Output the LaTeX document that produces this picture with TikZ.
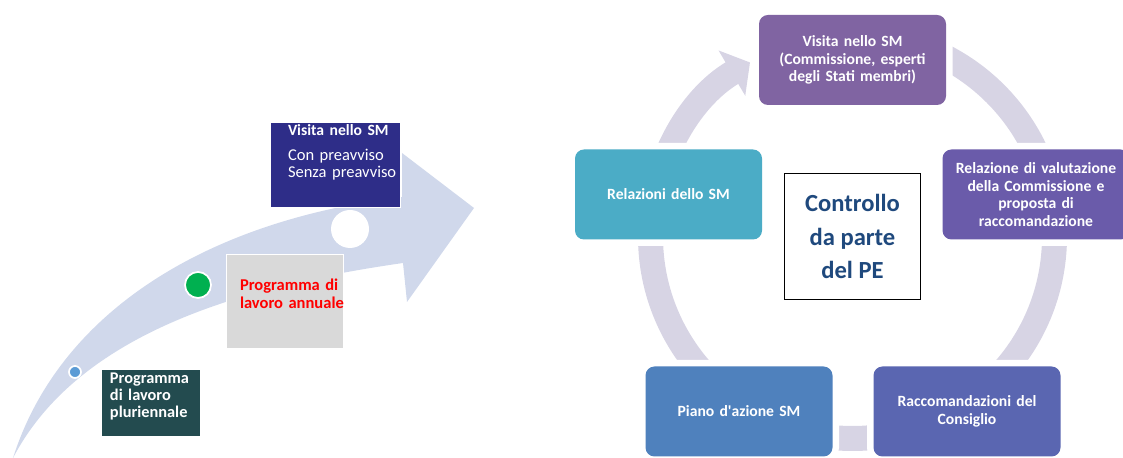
\documentclass[tikz,border=0pt]{standalone}
\usepackage{fontspec}
\setmainfont{Carlito}
\usetikzlibrary{positioning,arrows.meta}
\definecolor{evnavy}{HTML}{2E2D88}
\definecolor{evgray}{HTML}{D9D9D9}
\definecolor{evteal}{HTML}{234B4F}
\definecolor{evgreen}{HTML}{00B050}
\definecolor{evdot}{HTML}{5B9BD5}
\definecolor{evarrow}{HTML}{D0D8EB}
\definecolor{evring}{HTML}{D7D4E4}
\definecolor{evpurple}{HTML}{8064A2}
\definecolor{evviolet}{HTML}{6A5BAA}
\definecolor{evturq}{HTML}{4BACC6}
\definecolor{evblue}{HTML}{4F81BD}
\definecolor{evindigo}{HTML}{5A66B1}
\definecolor{evdark}{HTML}{1F497D}

\begin{document}
\begin{tikzpicture}[font=\fontsize{8.9}{9.9}\selectfont,
       tag/.style={draw=white,line width=0.4pt,inner sep=0pt,align=left,text=white,font=\fontsize{9.4}{10}\selectfont},
       dot/.style={circle,draw=white,line width=1pt,inner sep=0pt},
       cyc/.style={rounded corners=0.18cm,minimum width=3.74cm,minimum height=1.8cm,text width=3.45cm,align=center,text=white,font=\fontsize{8.9}{9.9}\selectfont\bfseries,preaction={draw=white,line width=0.26cm}},
       ring/.style={draw=evring,line width=0.5cm,-{Triangle[length=0.42cm,width=1.03cm]}}]
      \useasboundingbox (0,0) rectangle (22.46,9.16);
      \fill[evarrow] (0.26,0) .. controls (1.2,2.96) and (4.2,4.76) .. (8.04,5.22) -- (8.04,6.1) -- (9.48,5.0) -- (8.14,3.12) -- (8.06,3.9) .. controls (5.0,3.46) and (1.6,2.56) .. (0.26,0) -- cycle;
      \node[dot,draw=none,fill=white,minimum size=0.76cm] (wdot) at (7.0,4.58) {};
      \node[dot,fill=evgreen,minimum size=0.52cm] (gdot) at (3.96,3.46) {};
      \node[dot,fill=evdot,minimum size=0.24cm] (bdot) at (1.5,1.72) {};
      \node[tag,fill=evnavy,minimum width=2.6cm,minimum height=1.7cm,text width=2.6cm] (visit) at (6.70,5.86) {\leftskip=0.36cm{\fontsize{8.9}{10}\selectfont\bfseries Visita nello SM}\\[4pt]Con preavviso\\\mbox{Senza preavviso}\rule[-0.55cm]{0pt}{0pt}\par};
      \node[tag,fill=evgray,text=red,minimum width=2.34cm,minimum height=1.88cm,text width=2.34cm,font=\fontsize{9.4}{10.2}\selectfont\bfseries] (annual) at (5.69,3.14) {\leftskip=0.28cm\mbox{Programma di}\\\mbox{lavoro annuale}\rule[-0.3cm]{0pt}{0pt}\par};
      \node[tag,fill=evteal,minimum width=1.98cm,minimum height=1.34cm,text width=1.98cm,font=\fontsize{9.3}{9.8}\selectfont\bfseries] (multi) at (3.01,1.11) {\leftskip=0.18cm Programma\\di lavoro\\pluriennale\rule[-0.3cm]{0pt}{0pt}\par};
      \coordinate (hub) at (17.05,4.43);
      \draw[ring] (hub) ++(90:4.04) arc[start angle=90,end angle=-239.5,radius=4.04cm];
      \node[cyc,fill=evpurple] (visita) at (17.05,7.96) {Visita nello SM\\(Commissione, esperti\\degli Stati membri)};
      \node[cyc,fill=evviolet] (eval) at (20.72,5.27) {Relazione di valutazione\\della Commissione e\\proposta di\\raccomandazione};
      \node[cyc,fill=evturq] (rep) at (13.37,5.27) {Relazioni dello SM};
      \node[cyc,fill=evblue] (plan) at (14.78,0.93) {Piano d\textquotesingle azione SM};
      \node[cyc,fill=evindigo] (rec) at (19.34,0.93) {Raccomandazioni del\\Consiglio};
      \node[draw=black,line width=0.8pt,fill=white,minimum width=2.72cm,minimum height=2.52cm,align=center,text=evdark,font=\fontsize{14}{19.3}\selectfont\bfseries] (pe) at (hub) {Controllo\\da parte\\del PE};
    \end{tikzpicture}
\end{document}
